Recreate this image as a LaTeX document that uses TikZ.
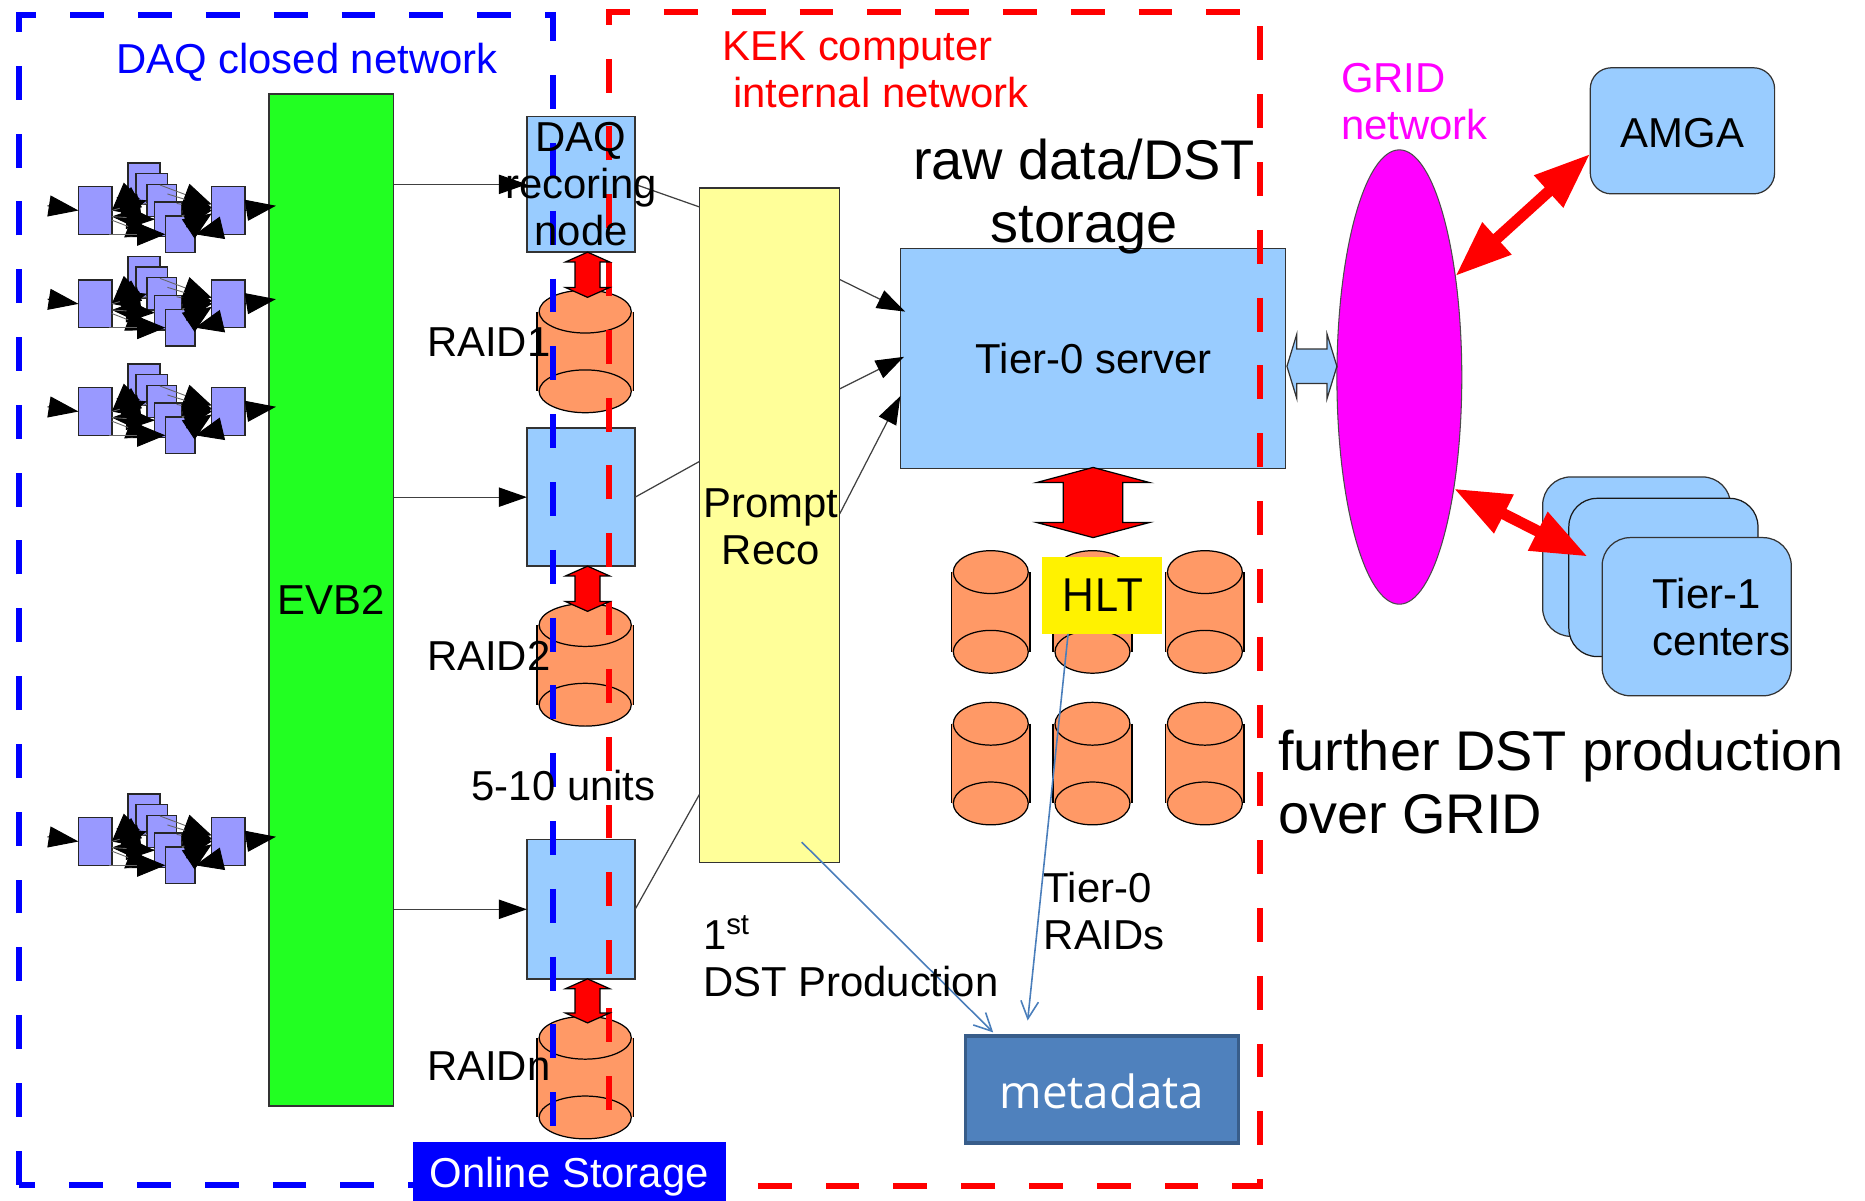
\documentclass[tikz,border=0pt]{standalone}
\usepackage{fontspec}
\setmainfont{Liberation Sans}
\newfontfamily\softfont{Open Sans}
\usetikzlibrary{arrows.meta,shapes.geometric,shapes.arrows}
\def\pxu{0.011894cm}
\definecolor{nodeblue}{HTML}{99CCFF}
\definecolor{evbgreen}{HTML}{22FF22}
\definecolor{recoyellow}{HTML}{FFFF99}
\definecolor{diskorange}{HTML}{FF9966}
\definecolor{gridpink}{HTML}{FF00FF}
\definecolor{cellviolet}{HTML}{9999FF}
\definecolor{metablue}{HTML}{4F81BD}
\definecolor{metaedge}{HTML}{385D8A}
\definecolor{linkblue}{HTML}{4A7EBB}
\tikzset{
  boxsize/.style 2 args={minimum width=#1*\pxu,minimum height=#2*\pxu,inner sep=0pt,outer sep=0pt},
  plainbox/.style={draw=black!80,line width=0.4pt},
  cell/.style={draw=black!85,fill=cellviolet,line width=0.4pt},
  lbl/.style={inner sep=0pt,font=\fontsize{11.9}{13.4}\selectfont,align=left},
  biglbl/.style={inner sep=0pt,font=\fontsize{15.9}{17.9}\selectfont,align=left},
  softlbl/.style={inner sep=0pt,font=\softfont\fontsize{13}{15}\selectfont},
  flow/.style={draw=black!75,line width=0.35pt,-{Triangle[length=8pt,width=5.5pt,color=black]}},
  bigflow/.style={black,line width=0.3pt,-{Triangle[length=8.5pt,width=6pt]}},
  cellflow/.style={draw=black!60,line width=0.25pt,-{Triangle[length=8pt,width=6.5pt,color=black]}},
  datalink/.style={linkblue,line width=0.45pt,-{Straight Barb[length=5pt,width=5pt]}},
  gridlink/.style={red,line width=3.2pt,{Triangle[length=16pt,width=11.5pt]}-{Triangle[length=16pt,width=11.5pt]}},
  blockarrow/.style n args={3}{double arrow,minimum height=#1*\pxu,inner xsep=0pt,inner ysep=#2*\pxu,outer sep=0pt,
    double arrow head extend=#3*\pxu},
  redblock/.style={fill=red,draw=black,line width=0.35pt,rotate=90},
  netdash/.style={line width=1.7pt,dash pattern=on 9.64pt off 9.64pt},
  raiddisk/.pic={
    \fill[diskorange] (-32.5,-33.5) rectangle (32.5,33.5);
    \draw[line width=0.45pt] (-33,-33.5) -- (-33,33.5);
    \draw[line width=0.45pt] (33,-33.5) -- (33,33.5);
    \draw[fill=diskorange,line width=0.35pt] (0,33.5) ellipse [x radius=31.5,y radius=18];
    \draw[fill=diskorange,line width=0.35pt] (0,-33.5) ellipse [x radius=31.5,y radius=18];
  }
}
\begin{document}
\begin{tikzpicture}[x=\pxu,y=-\pxu]
\useasboundingbox (0,0) rectangle (1568,1009);

\node[boxsize={105}{851},fill=evbgreen,plainbox] (evb) at (278.5,504.5) {};

\foreach \rowy/\rowname in {177/a,255.5/b,346/c,707.5/d}{
  \begin{scope}[yshift=-\rowy*\pxu+177*\pxu]
  \coordinate (in\rowname) at (40,173);
  \coordinate (out\rowname) at (232,173);
  \node[boxsize={28}{40},cell] (left\rowname) at (80,177) {};
  \node[boxsize={28}{40},cell] (right\rowname) at (192,177) {};
  \node[boxsize={27}{27},cell] (cella\rowname) at (121,150.5) {};
  \node[boxsize={26.5}{26},cell] (cellb\rowname) at (127.5,159) {};
  \node[boxsize={25}{27},cell] (cellc\rowname) at (136,168.5) {};
  \node[boxsize={23}{29},cell] (celld\rowname) at (141.5,184.5) {};
  \node[boxsize={25}{31},cell] (celle\rowname) at (151.5,197) {};
  \draw[bigflow] (in\rowname) -- (left\rowname.west);
  \draw[bigflow] (right\rowname.east) -- (out\rowname);
  \draw[cellflow] (cella\rowname) -- (left\rowname.east);
  \draw[cellflow] (cellb\rowname) -- (left\rowname.east);
  \draw[cellflow] (cellc\rowname) -- (left\rowname.east);
  \draw[cellflow] (celld\rowname) -- (left\rowname.-20);
  \draw[cellflow] (left\rowname.east) -- (cellc\rowname.west);
  \draw[cellflow] (left\rowname.-20) -- (celld\rowname.west);
  \draw[cellflow] (left\rowname.-30) -- (celld\rowname.south west);
  \draw[cellflow] (left\rowname.-60) -- (celle\rowname.west);
  \draw[cellflow] (cella\rowname) -- (right\rowname.160);
  \draw[cellflow] (cellb\rowname) -- (right\rowname.170);
  \draw[cellflow] (cellc\rowname) -- (right\rowname.west);
  \draw[cellflow] (celld\rowname) -- (right\rowname.west);
  \draw[cellflow] (celld\rowname) -- (right\rowname.170);
  \draw[cellflow] (celle\rowname) -- (right\rowname.190);
  \draw[cellflow] (right\rowname.-130) -- (celle\rowname.east);
  \end{scope}
}

\node[boxsize={91}{114},fill=nodeblue,plainbox] (daqa) at (488.5,155) {};
\node[boxsize={91}{116},fill=nodeblue,plainbox] (daqb) at (488.5,418) {};
\node[boxsize={91}{117},fill=nodeblue,plainbox] (daqc) at (488.5,764.5) {};
\node[boxsize={118}{567},fill=recoyellow,plainbox] (prompt) at (647,441.5) {};
\node[boxsize={324}{185},fill=nodeblue,plainbox] (tierzero) at (919,301.5) {};

\draw[flow] (evb.east |- daqa.west) -- (daqa.west);
\draw[flow] (evb.east |- daqb.west) -- (daqb.west);
\draw[flow] (evb.east |- daqc.west) -- (daqc.west);
\draw[black!75,line width=0.35pt] (daqa.east) -- (prompt.west |- 0,174);
\draw[black!75,line width=0.35pt] (daqb.east) -- (prompt.west |- 0,388);
\draw[black!75,line width=0.35pt] (daqc.east) -- (prompt.west |- 0,668);
\draw[flow] (prompt.east |- 0,235) -- (761,262);
\draw[flow] (prompt.east |- 0,327) -- (760,300);
\draw[flow] (prompt.east |- 0,432) -- (757,333);

\pic[xscale=1.23] (raidone) at (492,295.5) {raiddisk};
\pic[xscale=1.23] (raidtwo) at (492,559) {raiddisk};
\pic[xscale=1.23] (raidn) at (492,906) {raiddisk};
\foreach \colx/\colname in {833/a,918.5/b,1013/c}{
  \pic (diskup\colname) at (\colx,514.5) {raiddisk};
  \pic (diskdown\colname) at (\colx,642) {raiddisk};
}

\draw[blue,netdash] (16,996) -- (16,13) -- (465,13) -- (465,996) -- cycle;
\draw[red,netdash,dash phase=16.9pt] (512,997) -- (512,10) -- (1059,10) -- (1059,997) -- cycle;

\node[blockarrow={38}{10}{8},double arrow tip angle=132,redblock] (linkone) at (494,231) {};
\node[blockarrow={38}{10}{8},double arrow tip angle=132,redblock] (linktwo) at (494,495) {};
\node[blockarrow={37}{10}{8},double arrow tip angle=132,redblock] (linkn) at (494,841.5) {};
\node[blockarrow={59}{24.5}{22.5},double arrow tip angle=150,redblock] (linkdisks) at (919,422.5) {};

\node[ellipse,boxsize={105}{382},fill=gridpink,draw=black!70,line width=0.3pt] (gridnet) at (1176.5,317) {};
\node[blockarrow={42}{14}{12.5},double arrow tip angle=146,fill=nodeblue,draw=black!80,line width=0.35pt] (linkgrid) at (1103,308) {};

\node[boxsize={155}{106},rounded corners=6pt,fill=nodeblue,draw=black!80,line width=0.35pt,lbl] (amga) at (1414.5,110) {\raisebox{-0.6pt}[\height][\depth]{AMGA}};
\node[boxsize={158}{134},rounded corners=8pt,fill=nodeblue,draw=black!80,line width=0.35pt] (tierback) at (1376,468) {};
\node[boxsize={159}{133},rounded corners=8pt,fill=nodeblue,draw=black!90,line width=0.35pt] (tiermid) at (1398.5,485.5) {};
\node[boxsize={159}{133},rounded corners=8pt,fill=nodeblue,draw=black!80,line width=0.35pt] (tierfront) at (1426.5,518.5) {};
\coordinate (tierend) at (1335,468);
\draw[gridlink] (gridnet.61) -- (amga.194);
\draw[gridlink] (gridnet.-64) -- (tierend);

\node[boxsize={101}{65},fill=yellow,softlbl] (hlt) at (926.5,500.5) {HLT};
\node[boxsize={229}{90},fill=metablue,draw=metaedge,line width=0.9pt,text=white,softlbl] (metadata) at (926.5,916) {\raisebox{-0.6pt}[\height][\depth]{metadata}};
\node[boxsize={263}{59},fill=blue,text=white,lbl] (online) at (478.5,989.5) {Online Storage};

\coordinate (promptfoot) at (674,708);
\coordinate (metatipa) at (835,868);
\coordinate (hltfoot) at (898,533);
\coordinate (metatipb) at (864,858);
\draw[datalink] (promptfoot) -- (metatipa);
\draw[datalink] (hltfoot) -- (metatipb);

\node[lbl,text=blue,anchor=west] (daqnet) at (97,52) {DAQ closed network};
\node[lbl,text=red,anchor=west] (keknet) at (607,58.5) {KEK computer\\\hspace{3pt}internal network};
\node[biglbl,anchor=center,align=center] (rawdata) at (911.5,165) {raw data/DST\\storage};
\node[lbl,anchor=center] (tierzerotext) at (919.5,301.5) {Tier-0 server};
\node[lbl,text=gridpink,anchor=west] (gridtext) at (1127,85.5) {GRID\\network};
\node[lbl,anchor=west] (tieronetext) at (1389,518.5) {Tier-1\\centers};
\node[biglbl,anchor=west] (further) at (1074,657.5) {further DST production\\over GRID};
\node[lbl] (evbtext) at (278.5,504) {EVB2};
\node[lbl,align=center] (daqtext) at (488.5,154.5) {DAQ\\recoring\\node};
\node[lbl,anchor=west] (raidonetext) at (358.5,288) {RAID1};
\node[lbl,anchor=west] (raidtwotext) at (358.5,551.5) {RAID2};
\node[lbl,anchor=west] (raidntext) at (358.5,896) {RAIDn};
\node[lbl,anchor=west] (unitstext) at (396,660.5) {5-10 units};
\node[lbl,align=center] (prompttext) at (648,443) {Prompt\\Reco};
\node[lbl,anchor=west] (dsttext) at (590.5,804) {1\textsuperscript{st}\\DST Production};
\node[lbl,anchor=west] (raidstext) at (877,766) {Tier-0\\RAIDs};
\end{tikzpicture}
\end{document}
